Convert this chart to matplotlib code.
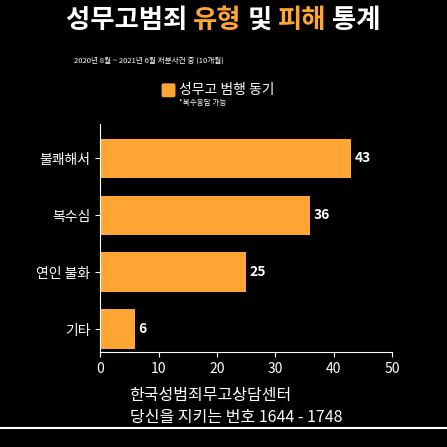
import matplotlib
matplotlib.use("Agg")
import matplotlib.pyplot as plt

plt.rcParams['font.family'] = ['Noto Sans CJK KR', 'DejaVu Sans']

categories = ["불쾌해서", "복수심", "연인 불화", "기타"]
values = [43, 36, 25, 6]
xticks = [0, 10, 20, 30, 40, 50]
orange = "#FFA534"

fig = plt.figure(figsize=(4.47, 4.47), dpi=100, facecolor="black")
ax = fig.add_axes([0.224, 0.212, 0.653, 0.51], facecolor="black")
y = list(range(len(categories)))[::-1]
ax.barh(y, values, height=0.7, color=orange)
for yi, v in zip(y, values):
    ax.text(v + 0.6, yi, str(v), color="white", va="center", ha="left", fontsize=10, fontweight="bold")
ax.set_yticks(y)
ax.set_yticklabels(categories, color="white", fontsize=10)
ax.set_xticks(xticks)
ax.set_xticklabels([str(t) for t in xticks], color="white", fontsize=10)
ax.set_xlim(0, 50)
ax.set_ylim(-0.4, 3.6)
for s in ["top", "right"]:
    ax.spines[s].set_visible(False)
for s in ["left", "bottom"]:
    ax.spines[s].set_color("white")
ax.tick_params(colors="white")

# Title
parts = [("성무고범죄 ", "white"), ("유형", orange), (" 및 ", "white"), ("피해", orange), (" 통계", "white")]
fig.canvas.draw()
r = fig.canvas.get_renderer()
texts = []
for s, c in parts:
    t = fig.text(0, 0.955, s, color=c, fontsize=19, fontweight="bold", va="center", ha="left")
    texts.append(t)
widths = [t.get_window_extent(r).width / fig.bbox.width for t in texts]
x = 0.5 - sum(widths) / 2
for t, w in zip(texts, widths):
    t.set_x(x)
    x += w

fig.text(0.165, 0.865, "2020년 8월 ~ 2021년 6월 처분사건 중 (10개월)", color="white", fontsize=5.5, va="center")
fig.patches.append(matplotlib.patches.FancyBboxPatch((0.366, 0.787), 0.022, 0.022, boxstyle="round,pad=0.003",
                   transform=fig.transFigure, color=orange, figure=fig))
fig.text(0.4, 0.798, "성무고 범행 동기", color="white", fontsize=10, va="center")
fig.text(0.4, 0.770, "*복수응답 가능", color="white", fontsize=5.5, va="center")

fig.text(0.29, 0.115, "한국성범죄무고상담센터", color="white", fontsize=11.5, va="center")
fig.text(0.29, 0.066, "당신을 지키는 번호 1644 - 1748", color="white", fontsize=11.5, va="center")
fig.lines.append(matplotlib.lines.Line2D([0, 1], [0.042, 0.042], color="white", lw=1.5, transform=fig.transFigure))

fig.savefig("out.png", dpi=100, facecolor="black")
